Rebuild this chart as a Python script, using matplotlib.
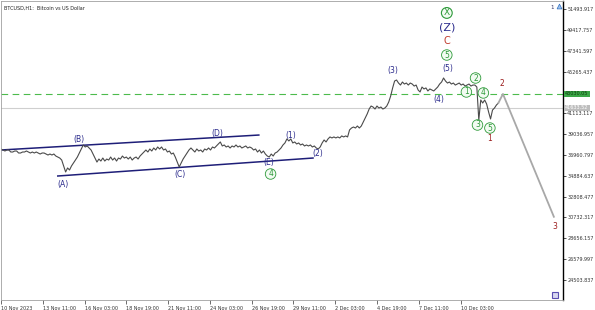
import numpy as np
import matplotlib
matplotlib.use("Agg")
from matplotlib import pyplot as plt

# BTCUSD H1 closes, sampled every 3 hours from 10 Nov 19:00
price = [37550, 37450, 37350, 37450, 37450, 37250, 37250, 37350, 37350, 37150,
         37150, 37250, 37250, 37350, 37250, 37150, 37250, 37150, 37250, 37150,
         37050, 37150, 37150, 37050, 36950, 37050, 36950, 37050, 36850, 36750,
         36650, 36450, 35860, 35260, 35660, 35460, 35860, 36150, 36450, 36750,
         37150, 37550, 37950, 37750, 37850, 37650, 37450, 37050, 36650, 36250,
         36550, 36350, 36650, 36350, 36550, 36450, 36750, 36450, 36650, 36350,
         36650, 36550, 36850, 36650, 36750, 36550, 36750, 36450, 36650, 36750,
         36550, 36850, 37050, 37250, 37450, 37250, 37550, 37350, 37650, 37450,
         37750, 37550, 37750, 37450, 37550, 37250, 37350, 37050, 37150, 36750,
         36250, 35760, 36150, 36550, 36850, 37150, 37450, 37650, 37450, 37250,
         37550, 37350, 37450, 37250, 37550, 37450, 37650, 37450, 37750, 37650,
         37850, 38050, 38250, 37850, 37950, 37750, 37850, 37650, 37850, 37750,
         37950, 37750, 37850, 37650, 37750, 37850, 37650, 37750, 37650, 37450,
         37550, 37250, 37450, 37150, 37350, 37050, 36850, 36750, 37050, 36850,
         37150, 37250, 37450, 37650, 37950, 38150, 38550, 38350, 38550, 38150,
         38250, 38050, 38150, 37950, 38050, 37850, 37950, 37850, 37950, 37750,
         37850, 37650, 37550, 37750, 38150, 38450, 38250, 38550, 38750, 38650,
         38750, 38650, 38750, 38650, 38850, 38750, 38850, 38750, 39450, 39640,
         39740, 39640, 39840, 39640, 39840, 40240, 40640, 41040, 41530, 41830,
         41730, 41530, 41830, 41630, 41730, 41530, 41630, 41830, 42230, 42830,
         43630, 44320, 44420, 44120, 43920, 44220, 44020, 44120, 43920, 44120,
         44020, 43820, 43920, 43430, 43230, 43720, 43530, 43630, 43330, 43530,
         43430, 43330, 43530, 43720, 44020, 44220, 44620, 44320, 44120, 44220,
         44020, 44120, 43920, 44020, 44120, 43920, 44020, 43820, 43920, 44020,
         43820, 43920, 43920, 43720, 40440, 42430, 42130, 42430, 42030, 41240,
         40540, 41430, 41630, 41930, 42130]
hours = np.arange(len(price)) * 3

# forecast after wave 1
fc_hours = [hours[-1], 769, 847]
fc_price = [price[-1], 43030, 30800]

# triangle channel
upper_h, upper_p = [0, 395], [37450, 38940]
lower_h, lower_p = [87, 478], [34860, 36650]

level_green = 43030.05
level_bid = 41633.52

ytick_vals = [51493.917, 49417.757, 47341.597, 45265.437, 41113.117, 39036.957,
              36960.797, 34884.637, 32808.477, 30732.317, 28656.157, 26579.997,
              24503.837]
xtick_hours = [0, 64, 128, 192, 256, 320, 384, 448, 512, 576, 640, 704]
xtick_labels = ["10 Nov 2023", "13 Nov 11:00", "16 Nov 03:00", "18 Nov 19:00",
                "21 Nov 11:00", "24 Nov 03:00", "26 Nov 19:00", "29 Nov 11:00",
                "2 Dec 03:00", "4 Dec 19:00", "7 Dec 11:00", "10 Dec 03:00"]

navy_labels = [("(A)", 95, 34060), ("(B)", 119, 38540), ("(C)", 274, 34960),
               ("(D)", 331, 39140), ("(E)", 410, 36250), ("(1)", 444, 38850),
               ("(2)", 485, 37150), ("(3)", 600, 45320), ("(4)", 671, 42430),
               ("(5)", 684, 45520)]
green_labels = [("4", 413, 35060), ("5", 683, 46910), ("1", 713, 43230),
                ("2", 727, 44620), ("3", 730, 39940), ("4", 739, 43130),
                ("5", 749, 39640)]
red_labels = [("1", 749, 38550), ("2", 767, 44120), ("3", 848, 29880)]

navy = "#2b2b8c"
green = "#2e9a3a"
dred = "#9b1c1c"
small = 3.5

fig = plt.figure(figsize=(5.95, 3.10), dpi=100)
ax = fig.add_axes([1/595, 10/310, 562/595, 299/310])
ax.set_xlim(0, 861)
ax.set_ylim(22510, 52290)

ax.axhline(level_green, color="#4cbb4c", lw=0.8, ls=(0, (6, 4)))
ax.axhline(level_bid, color="#cfcfcf", lw=0.8)

ax.plot(upper_h, upper_p, color="#1e1e78", lw=1.1)
ax.plot(lower_h, lower_p, color="#1e1e78", lw=1.1)
ax.plot(hours, price, color="#4a4a4a", lw=0.8)
ax.plot(fc_hours, fc_price, color="#a8a8a8", lw=1.3)

for t, h, p in navy_labels:
    ax.text(h, p, t, color=navy, fontsize=5.5, ha="center", va="center")
for t, h, p in green_labels:
    ax.text(h, p, t, color=green, fontsize=5.5, ha="center", va="center",
            bbox=dict(boxstyle="circle,pad=0.1", fc="#f2fbf2", ec=green, lw=0.6))
for t, h, p in red_labels:
    ax.text(h, p, t, color=dred, fontsize=5.5, ha="center", va="center")

ax.text(683, 48310, "C", color="#c0392b", fontsize=7, ha="center", va="center")
ax.text(683, 49700, "(Z)", color=navy, fontsize=8, ha="center", va="center")
ax.text(683, 51100, "X", color=green, fontsize=6.5, ha="center", va="center",
        bbox=dict(boxstyle="circle,pad=0.1", fc="#f2fbf2", ec=green, lw=0.8))

ax.text(0.005, 0.985, "BTCUSD,H1:  Bitcoin vs US Dollar", transform=ax.transAxes,
        fontsize=small, color="#222222", ha="left", va="top")

ax.yaxis.tick_right()
ax.set_yticks(ytick_vals)
ax.set_yticklabels([f"{v:.3f}" for v in ytick_vals])
ax.tick_params(axis="y", length=2, width=0.6, pad=1, labelsize=small,
               colors="#333333")
ax.set_xticks(xtick_hours)
ax.set_xticklabels(xtick_labels, ha="left")
ax.tick_params(axis="x", length=3, width=0.5, pad=1.5, labelsize=small,
               colors="#333333")

ax.text(1.004, (level_green - 22510) / (52290 - 22510), f"{level_green:.2f}",
        transform=ax.transAxes, fontsize=small, color="#0d3d0d", ha="left", va="center",
        bbox=dict(boxstyle="square,pad=0.2", fc="#3aa646", ec="none"))
ax.text(1.004, (level_bid - 22510) / (52290 - 22510), f"{level_bid:.2f}",
        transform=ax.transAxes, fontsize=small, color="white", ha="left", va="center",
        bbox=dict(boxstyle="square,pad=0.2", fc="#bdbdbd", ec="none"))

ax.plot([0.985], [0.017], marker="s", ms=4, mfc="#d8d8f0", mec="#5a4fb0",
        mew=0.8, transform=ax.transAxes, clip_on=False)
ax.text(0.984, 0.985, "1", transform=ax.transAxes, fontsize=4, color="#333366",
        ha="right", va="top")
ax.plot([0.992], [0.983], marker="^", ms=3.5, mfc="#9fc3ef", mec="#2f6fc0",
        mew=0.5, transform=ax.transAxes, clip_on=False)

for s in ["left", "top", "bottom"]:
    ax.spines[s].set_color("#a0a0a0")
    ax.spines[s].set_linewidth(0.6)
ax.spines["right"].set_color("black")
ax.spines["right"].set_linewidth(1.0)

fig.savefig("out.png", dpi=100)
